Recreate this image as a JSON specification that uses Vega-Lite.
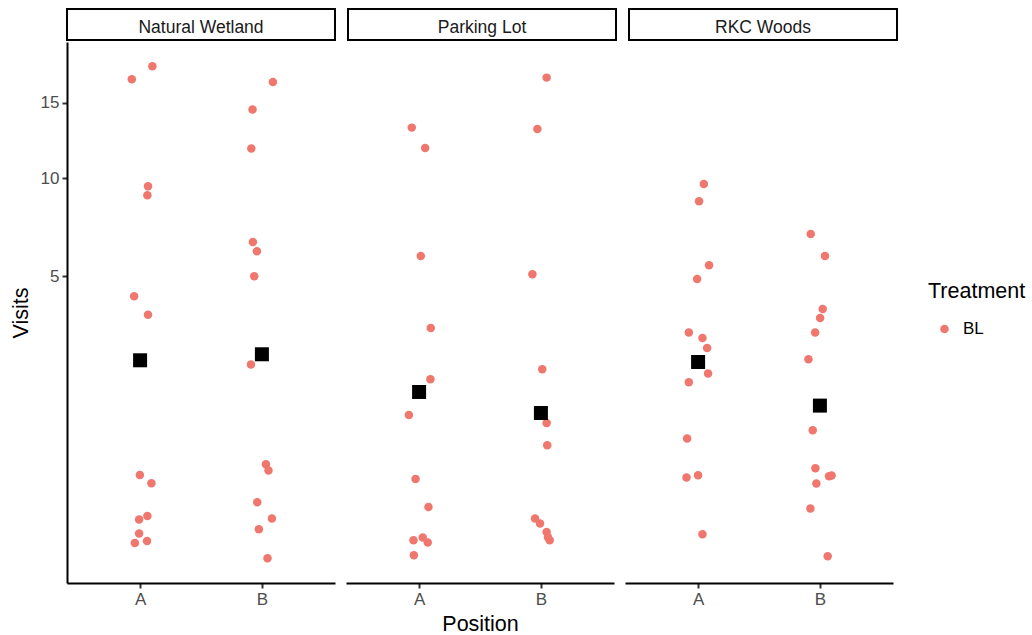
{
  "$schema": "https://vega.github.io/schema/vega-lite/v6.json",
  "padding": {"left": 10, "top": 8, "right": 5, "bottom": 5},
  "background": "white",
  "config": {
    "font": "Liberation Sans",
    "view": {"stroke": null},
    "axis": {"grid": false, "labelFont": "Liberation Sans", "titleFont": "Liberation Sans"}
  },
  "datasets": {
    "pts": [
      {"Site": "Natural Wetland", "Position": "A", "Treatment": "BL", "Visits": 17.80, "jitter": 0.101, "kind": "obs"},
      {"Site": "Natural Wetland", "Position": "A", "Treatment": "BL", "Visits": 16.78, "jitter": -0.068, "kind": "obs"},
      {"Site": "Natural Wetland", "Position": "A", "Treatment": "BL", "Visits": 9.52, "jitter": 0.065, "kind": "obs"},
      {"Site": "Natural Wetland", "Position": "A", "Treatment": "BL", "Visits": 9.01, "jitter": 0.060, "kind": "obs"},
      {"Site": "Natural Wetland", "Position": "A", "Treatment": "BL", "Visits": 4.19, "jitter": -0.049, "kind": "obs"},
      {"Site": "Natural Wetland", "Position": "A", "Treatment": "BL", "Visits": 3.51, "jitter": 0.065, "kind": "obs"},
      {"Site": "Natural Wetland", "Position": "A", "Treatment": "BL", "Visits": 0.129, "jitter": -0.002, "kind": "obs"},
      {"Site": "Natural Wetland", "Position": "A", "Treatment": "BL", "Visits": 0.079, "jitter": 0.093, "kind": "obs"},
      {"Site": "Natural Wetland", "Position": "A", "Treatment": "BL", "Visits": -0.0038, "jitter": -0.008, "kind": "obs"},
      {"Site": "Natural Wetland", "Position": "A", "Treatment": "BL", "Visits": -0.00075, "jitter": 0.060, "kind": "obs"},
      {"Site": "Natural Wetland", "Position": "A", "Treatment": "BL", "Visits": -0.0375, "jitter": -0.008, "kind": "obs"},
      {"Site": "Natural Wetland", "Position": "A", "Treatment": "BL", "Visits": -0.0797, "jitter": -0.043, "kind": "obs"},
      {"Site": "Natural Wetland", "Position": "A", "Treatment": "BL", "Visits": -0.0694, "jitter": 0.057, "kind": "obs"},
      {"Site": "Natural Wetland", "Position": "B", "Treatment": "BL", "Visits": 16.57, "jitter": 0.090, "kind": "obs"},
      {"Site": "Natural Wetland", "Position": "B", "Treatment": "BL", "Visits": 14.52, "jitter": -0.077, "kind": "obs"},
      {"Site": "Natural Wetland", "Position": "B", "Treatment": "BL", "Visits": 11.85, "jitter": -0.087, "kind": "obs"},
      {"Site": "Natural Wetland", "Position": "B", "Treatment": "BL", "Visits": 6.55, "jitter": -0.074, "kind": "obs"},
      {"Site": "Natural Wetland", "Position": "B", "Treatment": "BL", "Visits": 6.11, "jitter": -0.041, "kind": "obs"},
      {"Site": "Natural Wetland", "Position": "B", "Treatment": "BL", "Visits": 5.00, "jitter": -0.063, "kind": "obs"},
      {"Site": "Natural Wetland", "Position": "B", "Treatment": "BL", "Visits": 1.966, "jitter": -0.090, "kind": "obs"},
      {"Site": "Natural Wetland", "Position": "B", "Treatment": "BL", "Visits": 0.212, "jitter": 0.033, "kind": "obs"},
      {"Site": "Natural Wetland", "Position": "B", "Treatment": "BL", "Visits": 0.161, "jitter": 0.054, "kind": "obs"},
      {"Site": "Natural Wetland", "Position": "B", "Treatment": "BL", "Visits": 0.0104, "jitter": -0.038, "kind": "obs"},
      {"Site": "Natural Wetland", "Position": "B", "Treatment": "BL", "Visits": -0.0027, "jitter": 0.082, "kind": "obs"},
      {"Site": "Natural Wetland", "Position": "B", "Treatment": "BL", "Visits": -0.0234, "jitter": -0.025, "kind": "obs"},
      {"Site": "Natural Wetland", "Position": "B", "Treatment": "BL", "Visits": -0.182, "jitter": 0.046, "kind": "obs"},
      {"Site": "Parking Lot", "Position": "A", "Treatment": "BL", "Visits": 13.25, "jitter": -0.060, "kind": "obs"},
      {"Site": "Parking Lot", "Position": "A", "Treatment": "BL", "Visits": 11.89, "jitter": 0.050, "kind": "obs"},
      {"Site": "Parking Lot", "Position": "A", "Treatment": "BL", "Visits": 5.89, "jitter": 0.014, "kind": "obs"},
      {"Site": "Parking Lot", "Position": "A", "Treatment": "BL", "Visits": 3.052, "jitter": 0.096, "kind": "obs"},
      {"Site": "Parking Lot", "Position": "A", "Treatment": "BL", "Visits": 1.596, "jitter": 0.093, "kind": "obs"},
      {"Site": "Parking Lot", "Position": "A", "Treatment": "BL", "Visits": 0.858, "jitter": -0.084, "kind": "obs"},
      {"Site": "Parking Lot", "Position": "A", "Treatment": "BL", "Visits": 0.1037, "jitter": -0.029, "kind": "obs"},
      {"Site": "Parking Lot", "Position": "A", "Treatment": "BL", "Visits": 0.0033, "jitter": 0.077, "kind": "obs"},
      {"Site": "Parking Lot", "Position": "A", "Treatment": "BL", "Visits": -0.066, "jitter": -0.046, "kind": "obs"},
      {"Site": "Parking Lot", "Position": "A", "Treatment": "BL", "Visits": -0.0535, "jitter": 0.030, "kind": "obs"},
      {"Site": "Parking Lot", "Position": "A", "Treatment": "BL", "Visits": -0.0776, "jitter": 0.071, "kind": "obs"},
      {"Site": "Parking Lot", "Position": "A", "Treatment": "BL", "Visits": -0.1588, "jitter": -0.043, "kind": "obs"},
      {"Site": "Parking Lot", "Position": "B", "Treatment": "BL", "Visits": 16.91, "jitter": 0.047, "kind": "obs"},
      {"Site": "Parking Lot", "Position": "B", "Treatment": "BL", "Visits": 13.16, "jitter": -0.029, "kind": "obs"},
      {"Site": "Parking Lot", "Position": "B", "Treatment": "BL", "Visits": 5.085, "jitter": -0.070, "kind": "obs"},
      {"Site": "Parking Lot", "Position": "B", "Treatment": "BL", "Visits": 1.844, "jitter": 0.011, "kind": "obs"},
      {"Site": "Parking Lot", "Position": "B", "Treatment": "BL", "Visits": 0.724, "jitter": 0.047, "kind": "obs"},
      {"Site": "Parking Lot", "Position": "B", "Treatment": "BL", "Visits": 0.410, "jitter": 0.052, "kind": "obs"},
      {"Site": "Parking Lot", "Position": "B", "Treatment": "BL", "Visits": -0.0027, "jitter": -0.048, "kind": "obs"},
      {"Site": "Parking Lot", "Position": "B", "Treatment": "BL", "Visits": -0.0098, "jitter": -0.007, "kind": "obs"},
      {"Site": "Parking Lot", "Position": "B", "Treatment": "BL", "Visits": -0.0319, "jitter": 0.047, "kind": "obs"},
      {"Site": "Parking Lot", "Position": "B", "Treatment": "BL", "Visits": -0.066, "jitter": 0.072, "kind": "obs"},
      {"Site": "Parking Lot", "Position": "B", "Treatment": "BL", "Visits": -0.0522, "jitter": 0.058, "kind": "obs"},
      {"Site": "RKC Woods", "Position": "A", "Treatment": "BL", "Visits": 9.66, "jitter": 0.047, "kind": "obs"},
      {"Site": "RKC Woods", "Position": "A", "Treatment": "BL", "Visits": 8.67, "jitter": 0.008, "kind": "obs"},
      {"Site": "RKC Woods", "Position": "A", "Treatment": "BL", "Visits": 5.475, "jitter": 0.090, "kind": "obs"},
      {"Site": "RKC Woods", "Position": "A", "Treatment": "BL", "Visits": 4.887, "jitter": -0.008, "kind": "obs"},
      {"Site": "RKC Woods", "Position": "A", "Treatment": "BL", "Visits": 2.905, "jitter": -0.076, "kind": "obs"},
      {"Site": "RKC Woods", "Position": "A", "Treatment": "BL", "Visits": 2.734, "jitter": 0.036, "kind": "obs"},
      {"Site": "RKC Woods", "Position": "A", "Treatment": "BL", "Visits": 2.431, "jitter": 0.074, "kind": "obs"},
      {"Site": "RKC Woods", "Position": "A", "Treatment": "BL", "Visits": 1.735, "jitter": 0.082, "kind": "obs"},
      {"Site": "RKC Woods", "Position": "A", "Treatment": "BL", "Visits": 1.526, "jitter": -0.076, "kind": "obs"},
      {"Site": "RKC Woods", "Position": "A", "Treatment": "BL", "Visits": 0.495, "jitter": -0.090, "kind": "obs"},
      {"Site": "RKC Woods", "Position": "A", "Treatment": "BL", "Visits": 0.1124, "jitter": -0.095, "kind": "obs"},
      {"Site": "RKC Woods", "Position": "A", "Treatment": "BL", "Visits": 0.1274, "jitter": 0.000, "kind": "obs"},
      {"Site": "RKC Woods", "Position": "A", "Treatment": "BL", "Visits": -0.0401, "jitter": 0.036, "kind": "obs"},
      {"Site": "RKC Woods", "Position": "B", "Treatment": "BL", "Visits": 6.946, "jitter": -0.075, "kind": "obs"},
      {"Site": "RKC Woods", "Position": "B", "Treatment": "BL", "Visits": 5.894, "jitter": 0.042, "kind": "obs"},
      {"Site": "RKC Woods", "Position": "B", "Treatment": "BL", "Visits": 3.714, "jitter": 0.023, "kind": "obs"},
      {"Site": "RKC Woods", "Position": "B", "Treatment": "BL", "Visits": 3.394, "jitter": 0.002, "kind": "obs"},
      {"Site": "RKC Woods", "Position": "B", "Treatment": "BL", "Visits": 2.905, "jitter": -0.039, "kind": "obs"},
      {"Site": "RKC Woods", "Position": "B", "Treatment": "BL", "Visits": 2.109, "jitter": -0.094, "kind": "obs"},
      {"Site": "RKC Woods", "Position": "B", "Treatment": "BL", "Visits": 0.611, "jitter": -0.059, "kind": "obs"},
      {"Site": "RKC Woods", "Position": "B", "Treatment": "BL", "Visits": 0.179, "jitter": -0.037, "kind": "obs"},
      {"Site": "RKC Woods", "Position": "B", "Treatment": "BL", "Visits": 0.1208, "jitter": 0.075, "kind": "obs"},
      {"Site": "RKC Woods", "Position": "B", "Treatment": "BL", "Visits": 0.1254, "jitter": 0.096, "kind": "obs"},
      {"Site": "RKC Woods", "Position": "B", "Treatment": "BL", "Visits": 0.0776, "jitter": -0.029, "kind": "obs"},
      {"Site": "RKC Woods", "Position": "B", "Treatment": "BL", "Visits": 0.0018, "jitter": -0.078, "kind": "obs"},
      {"Site": "RKC Woods", "Position": "B", "Treatment": "BL", "Visits": -0.1664, "jitter": 0.064, "kind": "obs"},
      {"Site": "Natural Wetland", "Position": "A", "Visits": 2.082, "kind": "mean"},
      {"Site": "Natural Wetland", "Position": "B", "Visits": 2.249, "kind": "mean"},
      {"Site": "Parking Lot", "Position": "A", "Visits": 1.308, "kind": "mean"},
      {"Site": "Parking Lot", "Position": "B", "Visits": 0.893, "kind": "mean"},
      {"Site": "RKC Woods", "Position": "A", "Visits": 2.036, "kind": "mean"},
      {"Site": "RKC Woods", "Position": "B", "Visits": 1.030, "kind": "mean"}
    ]
  },
  "vconcat": [
    {
      "data": {"values": [{"Site": "Natural Wetland"}, {"Site": "Parking Lot"}, {"Site": "RKC Woods"}]},
      "facet": {"column": {"field": "Site", "type": "nominal", "header": null}},
      "spacing": 11,
      "spec": {
        "width": 268,
        "height": 31,
        "view": {"stroke": "black", "strokeWidth": 2, "fill": "white"},
        "mark": {"type": "text", "fontSize": 17.5, "font": "Liberation Sans", "color": "#1A1A1A", "dy": 3},
        "encoding": {"text": {"field": "Site", "type": "nominal"}}
      }
    },
    {
      "data": {"name": "pts"},
      "title": {"text": "Position", "orient": "bottom", "anchor": "middle", "fontSize": 21.5, "fontWeight": "normal", "color": "black", "font": "Liberation Sans", "offset": 7, "dx": 29},
      "facet": {"column": {"field": "Site", "type": "nominal", "header": null}},
      "spacing": 11,
      "spec": {
        "width": 268,
        "height": 541,
        "encoding": {
          "x": {
            "field": "Position", "type": "nominal",
            "scale": {"type": "point", "padding": 0.6},
            "axis": {
              "title": null, "labelAngle": 0,
              "domainColor": "black", "domainWidth": 2,
              "tickColor": "#333333", "tickWidth": 2, "tickSize": 5,
              "labelColor": "#4D4D4D", "labelFontSize": 17, "labelPadding": 3
            }
          },
          "y": {
            "field": "Visits", "type": "quantitative",
            "scale": {"type": "sqrt", "domain": [-0.436, 19.79], "zero": false, "nice": false},
            "axis": {
              "title": "Visits", "values": [5, 10, 15],
              "domainColor": "black", "domainWidth": 2,
              "tickColor": "#333333", "tickWidth": 2, "tickSize": 5,
              "labelColor": "#4D4D4D", "labelFontSize": 17, "labelPadding": 3,
              "titleFontSize": 21.5, "titleFontWeight": "normal", "titleColor": "black", "titlePadding": 8
            }
          }
        },
        "layer": [
          {
            "transform": [{"filter": "datum.kind === 'obs'"}],
            "mark": {"type": "point", "shape": "circle", "filled": true, "opacity": 1, "size": 72},
            "encoding": {
              "xOffset": {"field": "jitter", "type": "quantitative", "scale": {"domain": [-0.5, 0.5], "range": [-60.9, 60.9]}},
              "color": {
                "field": "Treatment", "type": "nominal",
                "scale": {"range": ["#F0776D"]},
                "legend": {
                  "title": "Treatment", "orient": "none", "legendX": 861, "legendY": 272,
                  "titleFontSize": 21.5, "titleFontWeight": "normal", "titleColor": "black", "titleFont": "Liberation Sans",
                  "labelFontSize": 17, "labelColor": "black", "labelFont": "Liberation Sans",
                  "symbolSize": 72, "symbolType": "circle", "symbolOffset": 8, "titlePadding": 18, "labelOffset": 10
                }
              }
            }
          },
          {
            "transform": [{"filter": "datum.kind === 'mean'"}],
            "mark": {"type": "square", "filled": true, "opacity": 1, "size": 196, "color": "black"},
            "encoding": {}
          }
        ]
      }
    }
  ],
  "spacing": 1
}
